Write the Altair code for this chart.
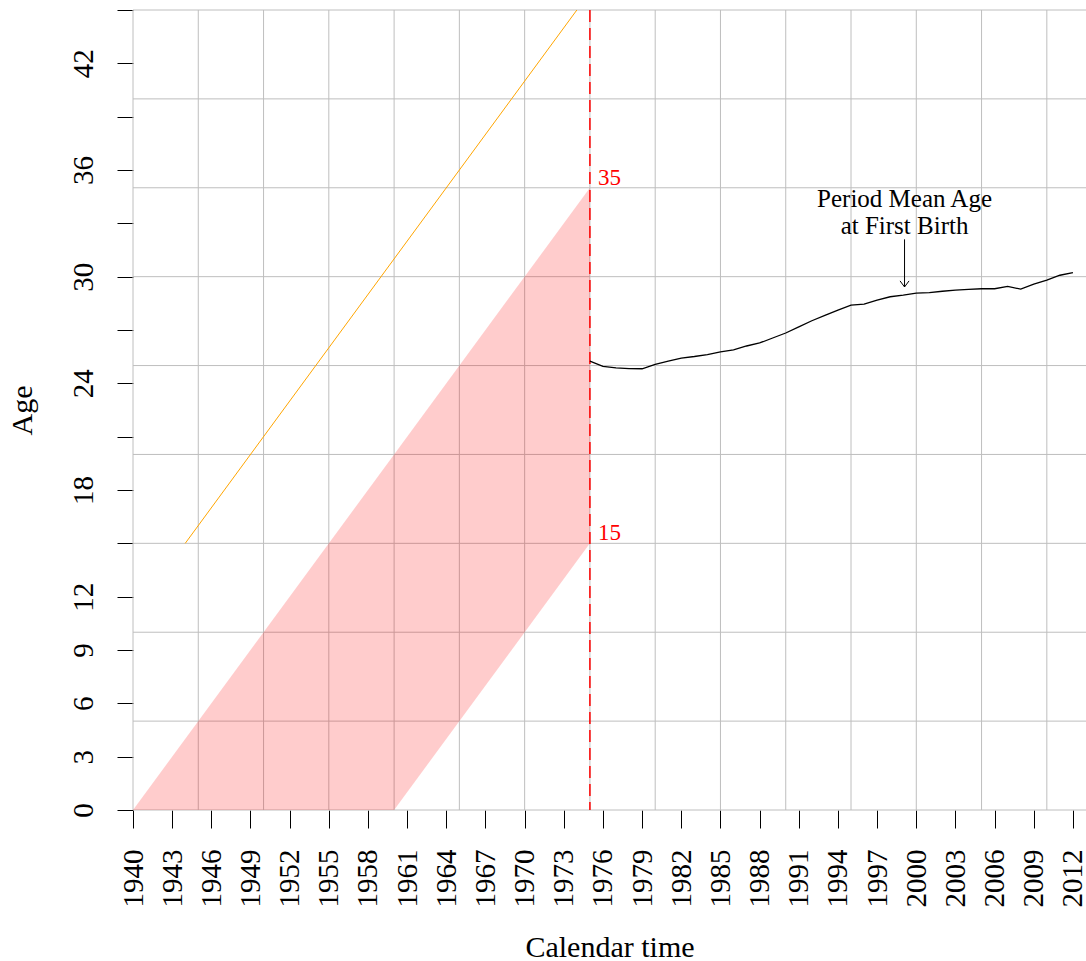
import altair as alt
import pandas as pd

FONT = "Liberation Serif"

# Period mean age at first birth, 1975-2012
mab_years = list(range(1975, 2013))
mab_ages = [25.25, 24.95, 24.87, 24.83, 24.82, 25.07, 25.25, 25.42, 25.51, 25.62,
            25.77, 25.88, 26.10, 26.27, 26.55, 26.83, 27.18, 27.52, 27.82, 28.12,
            28.40, 28.46, 28.68, 28.87, 28.96, 29.07, 29.10, 29.18, 29.24, 29.28,
            29.32, 29.32, 29.45, 29.30, 29.58, 29.80, 30.08, 30.23]

# Cohorts born 1940-1960, followed up to the 1975 observation year
band_years = [1940, 1960, 1975]
band_low = [0, 0, 15]
band_high = [0, 20, 35]

# Cohort born 1929, from age 15 onward
cohort_years = [1944, 1974]
cohort_ages = [15, 45]

obs_year = 1975
obs_ages = [35, 15]
obs_labels = ["35", "15"]

# Annotation for the period indicator
note_x = 1999.1
note_lines = ["Period Mean Age", "at First Birth"]
note_line_ages = [33.9, 32.4]
arrow_from, arrow_to = 32.1, 29.42

grid_years = list(range(1940, 2011, 5))
grid_ages = list(range(0, 46, 5))
x_ticks = list(range(1940, 2013, 3))
y_ticks = list(range(0, 46, 3))
y_labelled = [0, 3, 6, 9, 12, 18, 24, 30, 36, 42]

xscale = alt.Scale(domain=[1940, 2013], nice=False, zero=False)
yscale = alt.Scale(domain=[0, 45], nice=False, zero=False)

xaxis = alt.Axis(
    values=x_ticks, format="d", labelAngle=-90, labelAlign="right",
    labelBaseline="middle", tickSize=18, labelPadding=21, domain=False,
    grid=False, labelFont=FONT, labelFontSize=29, labelColor="black",
    tickColor="black", tickWidth=1, labelOverlap=False, labelFlush=False,
    title="Calendar time", titleFont=FONT, titleFontSize=30,
    titleFontWeight="normal", titleColor="black", titleY=146,
    titleBaseline="alphabetic",
)
yaxis = alt.Axis(
    values=y_ticks, labelAngle=-90, labelAlign="center", labelBaseline="bottom",
    labelExpr="indexof(%s, datum.value) >= 0 ? datum.label : ''" % str(y_labelled),
    tickSize=16, labelPadding=19, domain=False, grid=False, labelFont=FONT,
    labelFontSize=29, labelColor="black", tickColor="black", tickWidth=1,
    labelOverlap=False, labelFlush=False, title="Age", titleFont=FONT,
    titleFontSize=30, titleFontWeight="normal", titleColor="black",
    titleAngle=-90, titleX=-102, titleBaseline="alphabetic",
)


def X(field):
    return alt.X(field, type="quantitative", scale=xscale, axis=xaxis)


def Y(field):
    return alt.Y(field, type="quantitative", scale=yscale, axis=yaxis)


grid_v = alt.Chart(pd.DataFrame({"year": grid_years})).mark_rule(
    color="#bebebe", strokeWidth=1
).encode(x=X("year"))

grid_h = alt.Chart(pd.DataFrame({"age": grid_ages})).mark_rule(
    color="#bebebe", strokeWidth=1
).encode(y=Y("age"))

band = alt.Chart(pd.DataFrame({"year": band_years, "low": band_low, "high": band_high})).mark_area(
    color="red", opacity=0.2
).encode(x=X("year"), y=Y("low"), y2="high")

cohort = alt.Chart(pd.DataFrame({"year": cohort_years, "age": cohort_ages})).mark_line(
    color="orange", strokeWidth=1
).encode(x=X("year"), y=Y("age"))

obs_line = alt.Chart(pd.DataFrame({"year": [obs_year]})).mark_rule(
    color="red", strokeWidth=1.5, strokeDash=[12, 6]
).encode(x=X("year"))

mab = alt.Chart(pd.DataFrame({"year": mab_years, "age": mab_ages})).mark_line(
    color="black", strokeWidth=1.3
).encode(x=X("year"), y=Y("age"))

obs_text = alt.Chart(pd.DataFrame({"year": [obs_year] * 2, "age": obs_ages, "label": obs_labels})).mark_text(
    color="red", font=FONT, fontSize=23, align="left", baseline="middle", dx=8, dy=-10
).encode(x=X("year"), y=Y("age"), text="label:N")

note = alt.Chart(pd.DataFrame({"year": [note_x] * 2, "age": note_line_ages, "label": note_lines})).mark_text(
    color="black", font=FONT, fontSize=25, align="center", baseline="alphabetic"
).encode(x=X("year"), y=Y("age"), text="label:N")

shaft = alt.Chart(pd.DataFrame({"year": [note_x], "a0": [arrow_from], "a1": [arrow_to]})).mark_rule(
    color="black", strokeWidth=1
).encode(x=X("year"), y=Y("a0"), y2="a1")

head = alt.Chart(pd.DataFrame({"year": [note_x], "age": [arrow_to]})).mark_point(
    shape="M-1,-1.35L0,0L1,-1.35", filled=False, color="black", strokeWidth=1,
    size=81, opacity=1
).encode(x=X("year"), y=Y("age"))

chart = alt.layer(
    grid_v, grid_h, band, cohort, obs_line, mab, obs_text, note, shaft, head
).properties(
    width=953, height=800,
    autosize=alt.AutoSizeParams(type="none"),
    padding={"left": 133, "top": 10, "right": 0, "bottom": 151},
).configure_view(stroke=None)

chart.save("out.html", embed_options={"renderer": "svg", "actions": False})
